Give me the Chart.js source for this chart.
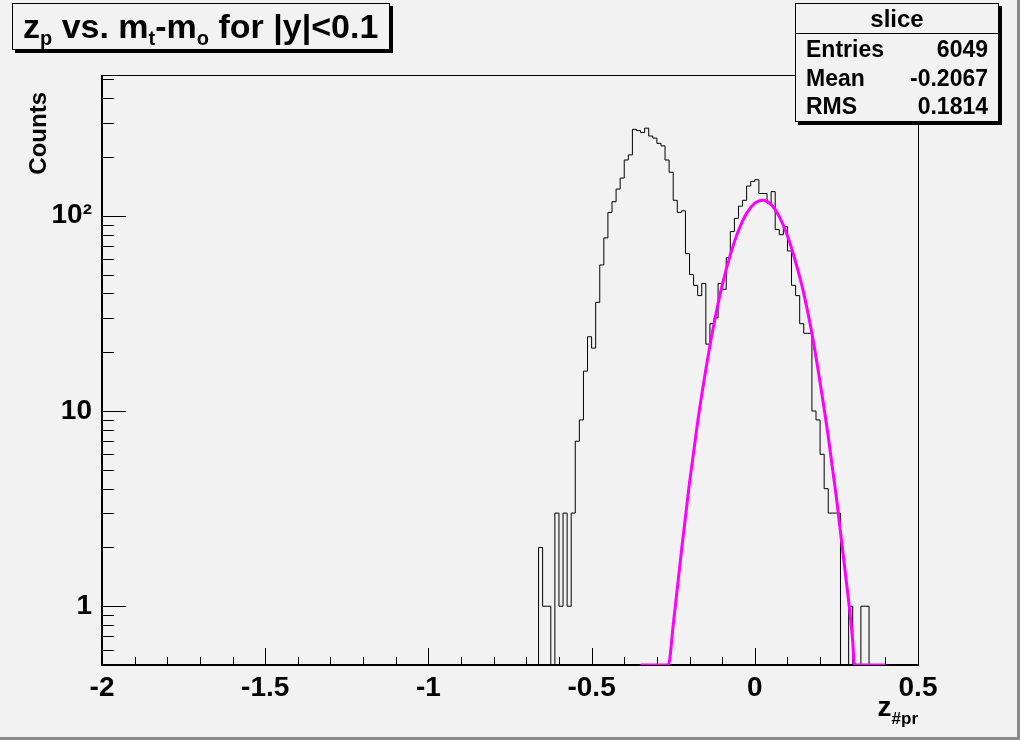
<!DOCTYPE html>
<html>
<head>
<meta charset="utf-8">
<title>z_p slice</title>
<script src="https://cdn.jsdelivr.net/npm/chart.js@4.4.1/dist/chart.umd.min.js"></script>
<style>
  html, body { margin: 0; padding: 0; background: #f2f2f2; }
  #wrap { width: 1020px; height: 740px; }
</style>
</head>
<body>
<div id="wrap"><canvas id="c" width="1020" height="740"></canvas></div>
<script>
// histogram "slice": 200 bins from -2 to 0.5, only bins 107..188 have entries
var histLow = -2, histHigh = 0.5, nBins = 200;
var firstBin = 107;
var counts = [
  1, 2, 1, 1, 0, 3, 1, 3, 1, 3,
  7, 9, 16, 24, 21, 36, 56, 77, 104, 118,
  137, 156, 193, 205, 277, 273, 267, 281, 256, 250,
  235, 228, 193, 167, 120, 104, 106, 64, 50, 44,
  39, 45, 22, 28, 30, 45, 42, 61, 83, 97,
  112, 120, 142, 150, 153, 130, 130, 116, 133, 85,
  80, 88, 66, 44, 39, 28, 25, 25, 10, 9,
  6, 4, 3, 3, 3, 0, 0, 1, 0, 0,
  1, 1
];

// gaussian fit (magenta); 0.5 = drawn along the bottom
var fitX = [-0.35, -0.265, -0.25, -0.225, -0.2, -0.175, -0.15, -0.125, -0.1, -0.075, -0.05, -0.025,
            0, 0.025, 0.05, 0.075, 0.1, 0.125, 0.15, 0.175, 0.2, 0.225, 0.25, 0.275, 0.3, 0.305, 0.4];
var fitY = [0.5, 0.5, 0.8, 1.9, 4.3, 8.8, 16.3, 28, 44, 63, 84, 103,
            116, 120, 114, 99, 79, 58, 40, 25, 14, 7.4, 3.6, 1.6, 0.66, 0.5, 0.5];

// axes
var xMin = -2, xMax = 0.5;
var yMin = 0.5, yMax = 526;
var xLabels = [-2, -1.5, -1, -0.5, 0, 0.5];
var yLabels = [1, 10, 100];
var yLabelText = ['1', '10', '10\u00B2'];

// stats box
var statsName = 'slice';
var statsRows = [['Entries', '6049'], ['Mean', '-0.2067'], ['RMS', '0.1814']];

var FONT = '"Liberation Sans", Arial, Helvetica, sans-serif';
var BG = '#f2f2f2';

// build step line for the histogram
var binW = (histHigh - histLow) / nBins;
var x0 = histLow + firstBin * binW;
var histPoints = [{x: x0, y: yMin}];
counts.forEach(function (c, i) {
    histPoints.push({x: x0 + i * binW, y: c > 0 ? c : yMin});
});
histPoints.push({x: x0 + counts.length * binW, y: yMin});

var fitPoints = fitX.map(function (x, i) { return {x: x, y: fitY[i]}; });

function drawPave(ctx, x1, y1, x2, y2) {
    ctx.fillStyle = '#000';
    ctx.fillRect(x1 + 3, y1 + 3, x2 - x1, y2 - y1);   // shadow
    ctx.fillStyle = BG;
    ctx.fillRect(x1, y1, x2 - x1, y2 - y1);
    ctx.strokeStyle = '#000';
    ctx.lineWidth = 1;
    ctx.strokeRect(x1 + 0.5, y1 + 0.5, x2 - x1 - 1, y2 - y1 - 1);
}

// draw text pieces, some of them as subscripts
function drawParts(ctx, parts, x, y, size, subSize, subDrop) {
    parts.forEach(function (p) {
        var sub = p[1];
        ctx.font = 'bold ' + (sub ? subSize : size) + 'px ' + FONT;
        ctx.fillText(p[0], x, sub ? y + subDrop : y);
        x += ctx.measureText(p[0]).width;
    });
    return x;
}
function partsWidth(ctx, parts, size, subSize) {
    var w = 0;
    parts.forEach(function (p) {
        ctx.font = 'bold ' + (p[1] ? subSize : size) + 'px ' + FONT;
        w += ctx.measureText(p[0]).width;
    });
    return w;
}

var rootLook = {
    id: 'rootLook',
    beforeDraw: function (chart) {
        var ctx = chart.ctx;
        ctx.save();
        ctx.fillStyle = BG;
        ctx.fillRect(0, 0, chart.width, chart.height);
        ctx.fillStyle = '#8a8a8a';
        ctx.fillRect(chart.width - 3, 0, 3, chart.height);
        ctx.fillRect(0, chart.height - 3, chart.width, 3);
        ctx.restore();
    },
    beforeDatasetsDraw: function (chart) {
        var ctx = chart.ctx, a = chart.chartArea;
        var xs = chart.scales.x, ys = chart.scales.y;
        ctx.save();
        ctx.strokeStyle = '#000';
        ctx.lineWidth = 1;
        ctx.strokeRect(a.left + 0.5, a.top + 0.5, a.right - a.left, a.bottom - a.top);
        ctx.lineWidth = 2;
        ctx.beginPath();
        ctx.moveTo(a.left, a.top);
        ctx.lineTo(a.left, a.bottom);
        ctx.lineTo(a.right, a.bottom);
        ctx.stroke();

        ctx.lineWidth = 1;
        ctx.beginPath();
        // x ticks every 0.1, long ones every 0.5
        for (var i = 0; i <= 25; i++) {
            var px = Math.round(xs.getPixelForValue(xMin + i * 0.1)) + 0.5;
            var len = (i % 5 === 0) ? 17 : 8;
            ctx.moveTo(px, a.bottom);
            ctx.lineTo(px, a.bottom - len);
        }
        // log y ticks
        for (var d = -1; d <= 2; d++) {
            for (var m = 1; m <= 9; m++) {
                var v = m * Math.pow(10, d);
                if (v < yMin || v > yMax) continue;
                var py = Math.round(ys.getPixelForValue(v)) + 0.5;
                ctx.moveTo(a.left, py);
                ctx.lineTo(a.left + (m === 1 ? 24 : 12), py);
            }
        }
        ctx.stroke();
        ctx.restore();
    },
    afterDraw: function (chart) {
        var ctx = chart.ctx, a = chart.chartArea;
        ctx.save();
        ctx.fillStyle = '#000';
        ctx.textBaseline = 'alphabetic';
        ctx.textAlign = 'left';

        // y title
        ctx.save();
        ctx.translate(46, a.top + 17);
        ctx.rotate(-Math.PI / 2);
        ctx.textAlign = 'right';
        ctx.font = 'bold 24px ' + FONT;
        ctx.fillText('Counts', 0, 0);
        ctx.restore();

        // x title
        var xt = [['z', false], ['#pr', true]];
        var w = partsWidth(ctx, xt, 28, 17);
        drawParts(ctx, xt, a.right - w, 716, 28, 17, 8);

        // title box
        drawPave(ctx, 12, 3, 390, 50);
        ctx.fillStyle = '#000';
        var tp = [['z', false], ['p', true], [' vs. m', false], ['t', true], ['-m', false], ['o', true], [' for |y|<0.1', false]];
        drawParts(ctx, tp, 23, 38, 34, 20, 7);

        // stats box
        drawPave(ctx, 795, 3, 999, 122);
        ctx.fillStyle = '#000';
        ctx.beginPath();
        ctx.moveTo(795, 33.5);
        ctx.lineTo(998, 33.5);
        ctx.stroke();
        ctx.font = 'bold 24px ' + FONT;
        ctx.textAlign = 'center';
        ctx.fillText(statsName, 897, 27);
        ctx.font = 'bold 23px ' + FONT;
        statsRows.forEach(function (r, i) {
            var by = 57 + i * 28.5;
            ctx.textAlign = 'left';
            ctx.fillText(r[0], 806, by);
            ctx.textAlign = 'right';
            ctx.fillText(r[1], 988, by);
        });
        ctx.restore();
    }
};

var tickFont = {family: FONT, size: 28, weight: 'bold'};

new Chart(document.getElementById('c'), {
    type: 'line',
    data: {
        datasets: [{
            label: 'fit',
            data: fitPoints,
            borderColor: '#ff00ff',
            borderWidth: 3,
            pointRadius: 0,
            fill: false,
            cubicInterpolationMode: 'monotone'
        }, {
            label: statsName,
            data: histPoints,
            borderColor: '#000',
            borderWidth: 1,
            pointRadius: 0,
            fill: false,
            stepped: 'after'
        }]
    },
    options: {
        responsive: false,
        animation: false,
        events: [],
        layout: {padding: {left: 0, top: 75, right: 102, bottom: 0}},
        plugins: {
            legend: {display: false},
            tooltip: {enabled: false},
            title: {display: false}
        },
        scales: {
            x: {
                type: 'linear',
                min: xMin,
                max: xMax,
                grid: {display: false, drawTicks: false},
                border: {display: false},
                afterBuildTicks: function (s) {
                    s.ticks = xLabels.map(function (v) { return {value: v}; });
                },
                afterFit: function (s) { s.height = 75; },
                ticks: {
                    padding: 6,
                    autoSkip: false,
                    maxRotation: 0,
                    color: '#000',
                    font: tickFont,
                    callback: function (v) { return String(v); }
                }
            },
            y: {
                type: 'logarithmic',
                min: yMin,
                max: yMax,
                grid: {display: false, drawTicks: false},
                border: {display: false},
                afterBuildTicks: function (s) {
                    s.ticks = yLabels.map(function (v) { return {value: v}; });
                },
                afterFit: function (s) { s.width = 102; },
                ticks: {
                    padding: 10,
                    autoSkip: false,
                    color: '#000',
                    font: tickFont,
                    callback: function (v) {
                        var i = yLabels.indexOf(v);
                        return i >= 0 ? yLabelText[i] : '';
                    }
                }
            }
        }
    },
    plugins: [rootLook]
});
</script>
</body>
</html>
